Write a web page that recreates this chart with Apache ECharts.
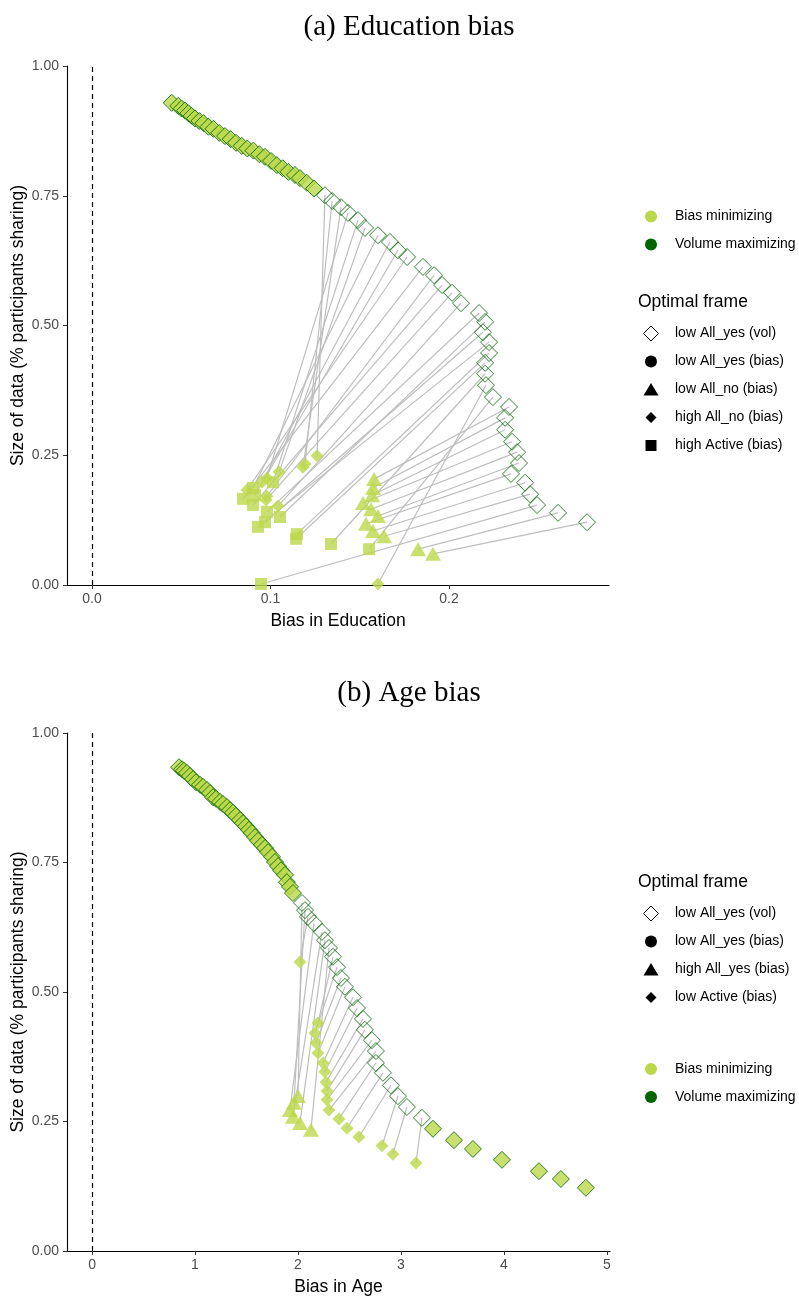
<!DOCTYPE html>
<html><head><meta charset="utf-8">
<script src="https://cdn.jsdelivr.net/npm/echarts@6/dist/echarts.min.js"></script>
<style>html,body{margin:0;padding:0;background:#fff}#c{width:799px;height:1298px}</style>
</head><body><div id="c"></div>
<script>
// ---------- (a) Education bias ----------
const eduXTicks = [0, 0.1, 0.2];
const yTicks = [0, 0.25, 0.5, 0.75, 1];
// points where bias-minimizing and volume-maximizing frames coincide
const eduBothX = [0.0447,0.0483,0.0502,0.0521,0.0540,0.0558,0.0577,0.0601,0.0624,0.0652,0.0680,0.0713,0.0745,0.0777,0.0807,0.0839,0.0870,0.0904,0.0937,0.0969,0.1003,0.1035,0.1068,0.1100,0.1137,0.1165,0.1203,0.1244];
const eduBothY = [0.929,0.923,0.918,0.914,0.909,0.904,0.899,0.894,0.890,0.883,0.879,0.871,0.865,0.859,0.852,0.846,0.841,0.837,0.830,0.825,0.817,0.809,0.803,0.796,0.790,0.784,0.775,0.764];
// volume maximizing (low All_yes (vol))
const eduVolX = [0.1305,0.1345,0.1395,0.1434,0.1490,0.1529,0.1602,0.1669,0.1714,0.1765,0.1854,0.1916,0.1961,0.2017,0.2067,0.2168,0.2202,0.2190,0.2224,0.2224,0.2202,0.2202,0.2207,0.2246,0.2336,0.2314,0.2314,0.2353,0.2381,0.2392,0.2347,0.2426,0.2454,0.2493,0.2611,0.2773];
const eduVolY = [0.751,0.740,0.728,0.717,0.703,0.688,0.674,0.661,0.645,0.632,0.613,0.597,0.578,0.563,0.543,0.524,0.507,0.487,0.468,0.447,0.428,0.407,0.385,0.362,0.343,0.322,0.299,0.276,0.256,0.235,0.214,0.197,0.175,0.154,0.139,0.121];
// bias minimizing, paired by index with the volume maximizing points
const eduBiasX = [0.1261,0.1193,0.1182,0.0980,0.1014,0.1048,0.0902,0.0952,0.0913,0.0868,0.0846,0.0980,0.0902,0.0975,0.1042,0.0980,0.1053,0.0969,0.0930,0.1148,0.1143,0.1339,0.1602,0.1552,0.1580,0.1574,0.1569,0.1518,0.1563,0.1602,0.1535,0.1574,0.1636,0.0947,0.1826,0.1910];
const eduBiasY = [0.249,0.233,0.227,0.206,0.198,0.218,0.187,0.198,0.173,0.183,0.166,0.171,0.154,0.164,0.152,0.141,0.131,0.121,0.112,0.098,0.089,0.079,0.002,0.069,0.204,0.187,0.173,0.158,0.146,0.133,0.118,0.104,0.094,0.002,0.069,0.060];
const eduBiasFrame = ['high All_no (bias)','high All_no (bias)','high All_no (bias)','high All_no (bias)','high Active (bias)','high All_no (bias)','high Active (bias)','high All_no (bias)','high Active (bias)','high All_no (bias)','high Active (bias)','high All_no (bias)','high Active (bias)','high All_no (bias)','high All_no (bias)','high Active (bias)','high Active (bias)','high Active (bias)','high Active (bias)','high Active (bias)','high Active (bias)','high Active (bias)','high All_no (bias)','high Active (bias)','low All_no (bias)','low All_no (bias)','low All_no (bias)','low All_no (bias)','low All_no (bias)','low All_no (bias)','low All_no (bias)','low All_no (bias)','low All_no (bias)','high Active (bias)','low All_no (bias)','low All_no (bias)'];
const eduFrames = ['low All_yes (vol)','low All_yes (bias)','low All_no (bias)','high All_no (bias)','high Active (bias)'];

// ---------- (b) Age bias ----------
const ageXTicks = [0, 1, 2, 3, 4, 5];
const ageBothX = [0.845,0.874,0.893,0.922,0.951,0.981,1.010,1.049,1.078,1.117,1.146,1.175,1.204,1.243,1.272,1.311,1.340,1.369,1.398,1.437,1.466,1.495,1.524,1.553,1.583,1.612,1.650,1.680,1.709,1.748,1.777,1.806,1.835,1.874,1.893,1.922,1.951,3.311,3.515,3.699,3.981,4.340,4.553,4.796];
const ageBothY = [0.934,0.930,0.927,0.923,0.917,0.911,0.905,0.900,0.896,0.890,0.884,0.876,0.873,0.867,0.863,0.857,0.851,0.846,0.840,0.832,0.826,0.820,0.813,0.807,0.799,0.792,0.784,0.778,0.770,0.761,0.751,0.743,0.735,0.726,0.712,0.703,0.691,0.236,0.214,0.197,0.176,0.154,0.139,0.122];
const ageVolX = [2.039,2.068,2.097,2.155,2.233,2.262,2.301,2.340,2.379,2.417,2.456,2.534,2.573,2.631,2.650,2.718,2.757,2.757,2.825,2.903,2.971,3.058,3.204];
const ageVolY = [0.672,0.658,0.645,0.633,0.616,0.600,0.585,0.568,0.548,0.527,0.510,0.490,0.469,0.448,0.427,0.407,0.386,0.363,0.344,0.320,0.299,0.278,0.257];
const ageBiasX = [2.000,1.961,2.019,1.922,1.951,2.019,2.126,2.194,2.165,2.175,2.194,2.243,2.262,2.272,2.282,2.282,2.301,2.398,2.476,2.592,2.816,2.922,3.146];
const ageBiasY = [0.299,0.286,0.558,0.272,0.259,0.247,0.234,0.440,0.421,0.402,0.382,0.363,0.346,0.326,0.309,0.292,0.272,0.255,0.237,0.220,0.203,0.187,0.170];
const ageBiasFrame = ['high All_yes (bias)','high All_yes (bias)','low Active (bias)','high All_yes (bias)','high All_yes (bias)','high All_yes (bias)','high All_yes (bias)','low Active (bias)','low Active (bias)','low Active (bias)','low Active (bias)','low Active (bias)','low Active (bias)','low Active (bias)','low Active (bias)','low Active (bias)','low Active (bias)','low Active (bias)','low Active (bias)','low Active (bias)','low Active (bias)','low Active (bias)','low Active (bias)'];
const ageFrames = ['low All_yes (vol)','low All_yes (bias)','high All_yes (bias)','low Active (bias)'];

const typeLabels = ['Bias minimizing','Volume maximizing'];

// ---------- styles ----------
const LIGHT = '#bcd84a', DARK = '#006400', GREY = '#bebebe';
const SANS = '"Liberation Sans", Arial, sans-serif';
const SERIF = '"Liberation Serif", "DejaVu Serif", serif';
const frameSym = {
  'high All_no (bias)': {symbol:'diamond', size:13, icon:'smalldiamond'},
  'low Active (bias)': {symbol:'diamond', size:13, icon:'smalldiamond'},
  'high Active (bias)': {symbol:'rect', size:12, icon:'square'},
  'low All_no (bias)': {symbol:'triangle', size:[16,14], icon:'triangle'},
  'high All_yes (bias)': {symbol:'triangle', size:[16,14], icon:'triangle'},
  'low All_yes (bias)': {symbol:'circle', size:12, icon:'circle'},
  'low All_yes (vol)': {symbol:'diamond', size:17, icon:'hollowdiamond'}
};

const pairs = (xs, ys) => xs.map((x, i) => [x, ys[i]]);
const biasData = (xs, ys, fr) => xs.map((x, i) => ({value:[x, ys[i]], symbol: frameSym[fr[i]].symbol, symbolSize: frameSym[fr[i]].size}));
const segs = (vx, vy, bx, by) => vx.map((x, i) => ({coords:[[x, vy[i]], [bx[i], by[i]]]}));

function xAxisCfg(idx, min, max, ticks, name, fmt) {
  return {
    type:'value', gridIndex: idx, min, max, name, nameLocation:'middle', nameGap: 27, nameMoveOverlap:false,
    nameTextStyle:{color:'#000', fontSize:17.5, fontFamily:SANS},
    axisLine:{show:true, onZero:false, lineStyle:{color:'#000', width:1.1}},
    axisTick:{show:true, length:4, lineStyle:{color:'#333'}, customValues: ticks},
    axisLabel:{color:'#4d4d4d', fontSize:14, fontFamily:SANS, margin:7, customValues: ticks, formatter: fmt},
    splitLine:{show:false}
  };
}
function yAxisCfg(idx) {
  return {
    type:'value', gridIndex: idx, min:0, max:1, name:'Size of data (% participants sharing)',
    nameLocation:'middle', nameGap: 40, nameMoveOverlap:false,
    nameTextStyle:{color:'#000', fontSize:17.5, fontFamily:SANS},
    axisLine:{show:true, onZero:false, lineStyle:{color:'#000', width:1.1}},
    axisTick:{show:true, length:4, lineStyle:{color:'#333'}, customValues: yTicks},
    axisLabel:{color:'#4d4d4d', fontSize:14, fontFamily:SANS, margin:8, customValues: yTicks, formatter: v => v.toFixed(2)},
    splitLine:{show:false}
  };
}
function panelSeries(idx, bothX, bothY, volX, volY, biasX, biasY, biasFr) {
  return [
    {type:'lines', coordinateSystem:'cartesian2d', xAxisIndex:idx, yAxisIndex:idx, silent:true, z:1,
     lineStyle:{color:GREY, width:1.2, opacity:1}, data: segs(volX, volY, biasX, biasY)},
    {type:'scatter', name:'low All_yes (vol)', xAxisIndex:idx, yAxisIndex:idx, symbol:'diamond', symbolSize:17, z:2,
     itemStyle:{color:'rgba(255,255,255,0)', borderColor:DARK, borderWidth:1}, data: pairs(volX, volY),
     markLine:{silent:true, symbol:['none','none'], label:{show:false}, animation:false,
       lineStyle:{color:'#000', type:[5,4], width:1.2}, data:[{xAxis:0}]}},
    {type:'scatter', name:'Bias minimizing', xAxisIndex:idx, yAxisIndex:idx, z:3,
     itemStyle:{color:LIGHT}, data: biasData(biasX, biasY, biasFr)},
    {type:'scatter', name:'Both', xAxisIndex:idx, yAxisIndex:idx, symbol:'diamond', symbolSize:17, z:4,
     itemStyle:{color:LIGHT, borderColor:DARK, borderWidth:1}, data: pairs(bothX, bothY)}
  ];
}

// ---------- legend drawing (graphic) ----------
function iconEl(kind, cx, cy, color) {
  if (kind === 'circle') return {type:'circle', shape:{cx, cy, r:6}, style:{fill:color}};
  if (kind === 'hollowdiamond') return {type:'polygon', shape:{points:[[cx,cy-7.5],[cx+7.5,cy],[cx,cy+7.5],[cx-7.5,cy]]}, style:{fill:'#fff', stroke:'#000', lineWidth:1}};
  if (kind === 'smalldiamond') return {type:'polygon', shape:{points:[[cx,cy-5.5],[cx+5.5,cy],[cx,cy+5.5],[cx-5.5,cy]]}, style:{fill:color}};
  if (kind === 'triangle') return {type:'polygon', shape:{points:[[cx,cy-6.5],[cx+7.5,cy+6],[cx-7.5,cy+6]]}, style:{fill:color}};
  if (kind === 'square') return {type:'rect', shape:{x:cx-5.5, y:cy-5.5, width:11, height:11}, style:{fill:color}};
}
function textEl(t, x, y, size) {
  return {type:'text', x, y, style:{text:t, fill:'#000', font:`${size}px ${SANS}`, textVerticalAlign:'middle', textAlign:'left'}};
}
const graphics = [];
function typeLegend(y0) {
  const cols = [LIGHT, DARK];
  typeLabels.forEach((t, i) => {
    graphics.push(iconEl('circle', 651, y0 + i*28, cols[i]));
    graphics.push(textEl(t, 675, y0 + i*28, 14));
  });
}
function frameLegend(y0, frames) {
  graphics.push(textEl('Optimal frame', 638, y0, 17.5));
  frames.forEach((f, i) => {
    graphics.push(iconEl(frameSym[f].icon, 651, y0 + 31 + i*28, '#000'));
    graphics.push(textEl(f, 675, y0 + 31 + i*28, 14));
  });
}
typeLegend(216.5);
frameLegend(302.5, eduFrames);
frameLegend(882.5, ageFrames);
typeLegend(1069);

const option = {
  animation:false,
  backgroundColor:'#fff',
  title:[
    {text:'(a) Education bias', left:404, top:8, textAlign:'center', textStyle:{fontFamily:SERIF, fontSize:29, fontWeight:'normal', color:'#000'}},
    {text:'(b) Age bias', left:404, top:674, textAlign:'center', textStyle:{fontFamily:SERIF, fontSize:29, fontWeight:'normal', color:'#000'}}
  ],
  grid:[
    {left:67, top:66, width:542, height:519, containLabel:false, outerBoundsMode:'none'},
    {left:67, top:733, width:543, height:518, containLabel:false, outerBoundsMode:'none'}
  ],
  xAxis:[
    xAxisCfg(0, -0.014, 0.2896, eduXTicks, 'Bias in Education', v => v.toFixed(1)),
    xAxisCfg(1, -0.243, 5.03, ageXTicks, 'Bias in Age', v => String(v))
  ],
  yAxis:[yAxisCfg(0), yAxisCfg(1)],
  series:[
    ...panelSeries(0, eduBothX, eduBothY, eduVolX, eduVolY, eduBiasX, eduBiasY, eduBiasFrame),
    ...panelSeries(1, ageBothX, ageBothY, ageVolX, ageVolY, ageBiasX, ageBiasY, ageBiasFrame)
  ],
  graphic: graphics
};
const chart = echarts.init(document.getElementById('c'), null, {renderer:'canvas'});
chart.setOption(option);
</script></body></html>
